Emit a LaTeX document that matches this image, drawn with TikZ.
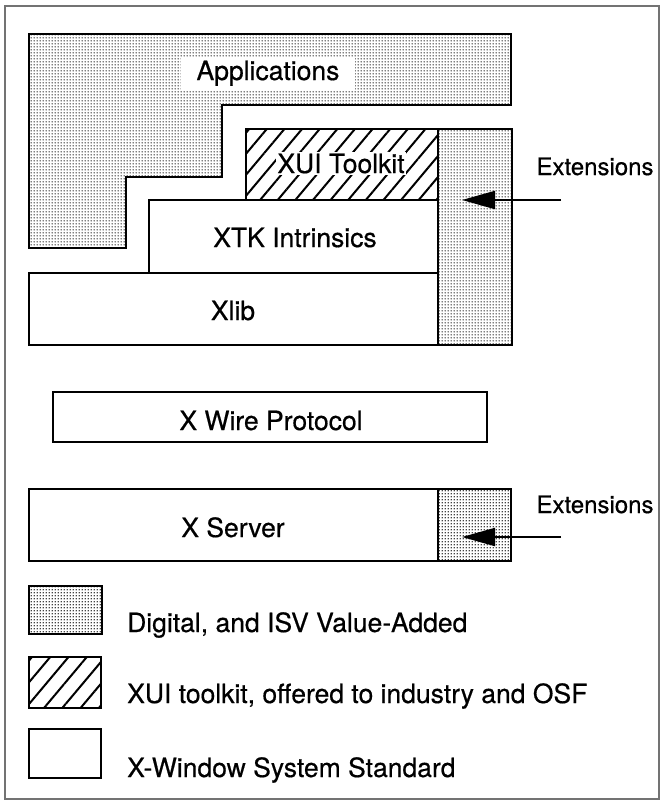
\documentclass[tikz,border=0pt]{standalone}
\usepackage{fontspec}
\setmainfont{TeX Gyre Heros}[FakeBold=0.5]
\usetikzlibrary{patterns.meta,arrows.meta}

\pgfdeclarepattern{
  name=stipple,
  type=uncolored,
  bottom left={\pgfpoint{0pt}{0pt}},
  top right={\pgfpoint{3pt}{3pt}},
  tile size={\pgfpoint{3pt}{3pt}},
  code={\pgfpathcircle{\pgfpoint{1.5pt}{1.5pt}}{0.95pt}\pgfusepath{fill}}
}

\tikzset{
  lbl/.style={font=\fontsize{26.5}{28}\selectfont, inner sep=0pt},
  small/.style={font=\fontsize{24}{26}\selectfont, inner sep=0pt},
  stip/.style={pattern=stipple, pattern color=black},
  hatchbig/.style={pattern={Lines[angle=50,distance=13.5pt,line width=2pt]}},
  hatchsmall/.style={pattern={Lines[angle=50,distance=14pt,line width=2pt]}},
  edgeline/.style={line width=2.8pt, line join=miter},
  innerline/.style={line width=2.2pt},
  extarrow/.style={line width=2pt, -{Triangle[length=33pt,width=18pt]}},
}

\begin{document}
\begin{tikzpicture}[x=1pt,y=-1pt]
\useasboundingbox (0,0) rectangle (665,804);
\draw[black!55, line width=1.5pt] (5,6) rectangle (659,799);

% Applications
\draw[edgeline, stip] (29,34) -- (511,34) -- (511,105) -- (222,105) -- (222,177)
   -- (126,177) -- (126,248) -- (29,248) -- cycle;
\node[lbl, fill=white, inner xsep=16pt, inner ysep=4pt, anchor=base] (app) at (268,80) {Applications};

% stack
\fill[stip] (438,129) rectangle (512,345);
\fill[hatchbig] (246,129) rectangle (438,200);
\draw[innerline] (438,129) -- (438,345);
\draw[innerline] (246,200) -- (438,200);
\draw[innerline] (149,273) -- (438,273);
\draw[edgeline] (246,129) -- (512,129) -- (512,345) -- (29,345) -- (29,273)
   -- (149,273) -- (149,200) -- (246,200) -- cycle;
\node[lbl, fill=white, inner xsep=1.5pt, inner ysep=2pt, anchor=base] (xui) at (341,173) {XUI Toolkit};
\node[lbl, anchor=base] (xtk) at (295,247) {XTK Intrinsics};
\node[lbl, anchor=base] (xlib) at (233,320) {Xlib};

\node[small, anchor=base] (ext1) at (595,175) {Extensions};
\coordinate (e1tail) at (561,200);
\coordinate (e1tip) at (462,200);
\draw[extarrow] (e1tail) -- (e1tip);

% wire protocol
\draw[edgeline] (53,392) rectangle (487,442);
\node[lbl, anchor=base] (wire) at (271,430) {X Wire Protocol};

% server
\fill[stip] (438,489) rectangle (511,561);
\draw[innerline] (438,489) -- (438,561);
\draw[edgeline] (29,489) rectangle (511,561);
\node[lbl, anchor=base] (server) at (233,537) {X Server};
\node[small, anchor=base] (ext2) at (595,513) {Extensions};
\coordinate (e2tail) at (561,537);
\coordinate (e2tip) at (462,537);
\draw[extarrow] (e2tail) -- (e2tip);

% legend
\draw[edgeline, stip] (29,586) rectangle (102,634);
\draw[edgeline, hatchsmall] (29,657) rectangle (101,708);
\draw[edgeline] (29,729) rectangle (101,778);
\node[lbl, anchor=base west] (leg1) at (127,632) {Digital, and ISV Value-Added};
\node[lbl, anchor=base west] (leg2) at (127,703) {XUI toolkit, offered to industry and OSF};
\node[lbl, anchor=base west] (leg3) at (127,777) {X-Window System Standard};
\end{tikzpicture}
\end{document}
